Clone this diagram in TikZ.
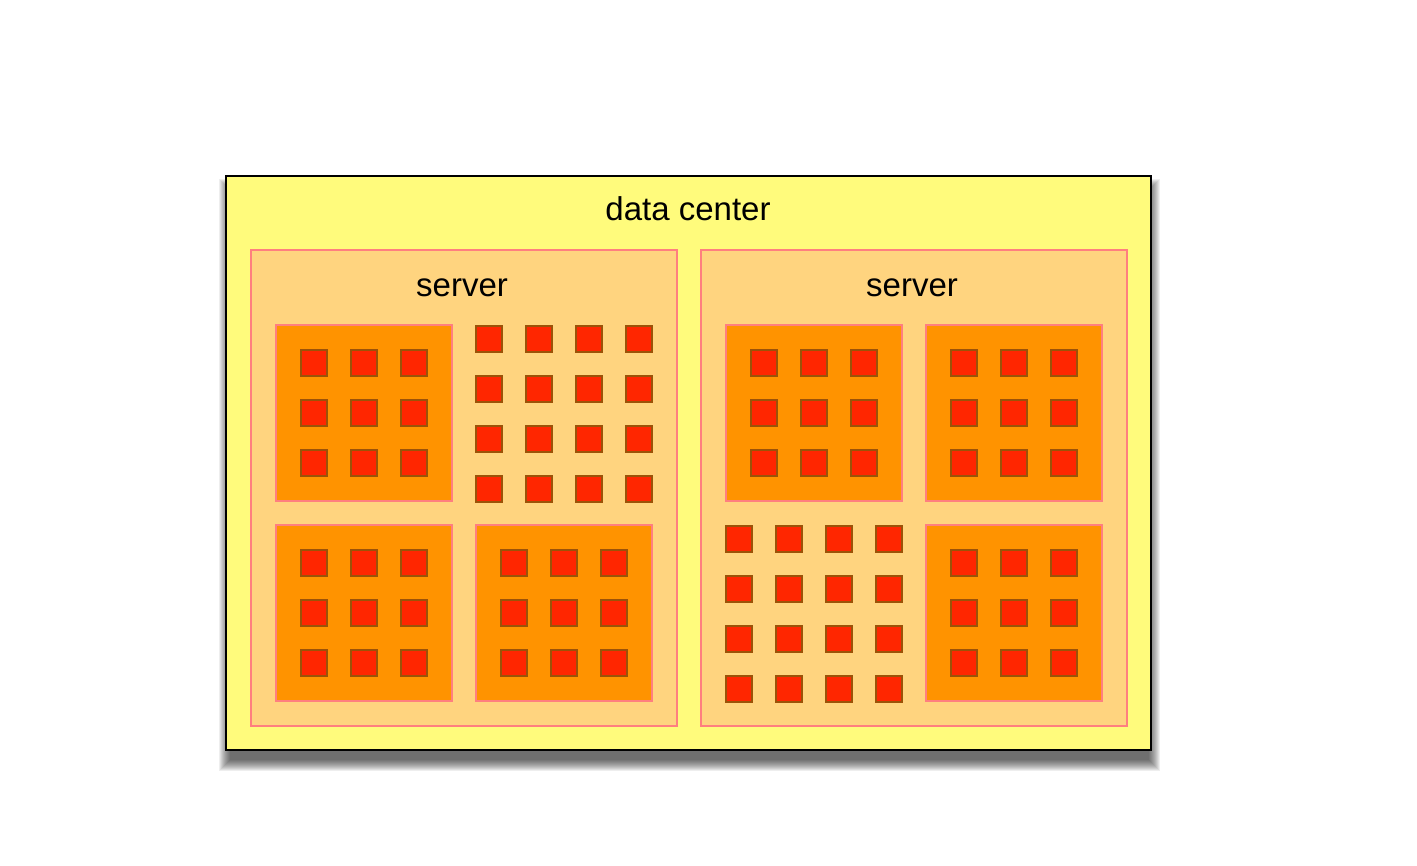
\documentclass[tikz,border=0pt]{standalone}
\usepackage{fontspec}
\setmainfont{Liberation Sans}
\usepackage{tikz}
\usetikzlibrary{positioning}
\definecolor{dcyellow}{HTML}{FFFB7C}
\definecolor{srvorange}{HTML}{FFD47F}
\definecolor{rimpink}{HTML}{FF7F7F}
\definecolor{tileorange}{HTML}{FF9300}
\definecolor{corered}{HTML}{FF2600}
\definecolor{corerim}{HTML}{9C5208}
\tikzset{
    %Define style for the outer box
    dcbox/.style={
           rectangle,
           draw=black, line width=1pt,
           fill=dcyellow,
           minimum width=462.5pt,
           minimum height=287pt,
           inner sep=0pt},
    srvbox/.style={
           rectangle,
           draw=rimpink, line width=1pt,
           fill=srvorange,
           minimum width=213pt,
           minimum height=238pt,
           inner sep=0pt},
    tilebox/.style={
           rectangle,
           draw=rimpink, line width=0.8pt,
           fill=tileorange,
           minimum size=88pt,
           inner sep=0pt},
    corebox/.style={
           rectangle,
           draw=corerim, line width=1pt,
           fill=corered,
           minimum size=13pt,
           inner sep=0pt},
    caption/.style={
           font=\fontsize{16.5pt}{19pt}\selectfont,
           inner sep=0pt}
}
\begin{document}
\begin{tikzpicture}[x=0.5pt,y=-0.5pt]
\useasboundingbox (0,0) rectangle (1417,866);
% soft shadow under the data center
\foreach \s in {0,...,11}
  \fill[black,opacity=0.065] (230-\s,190-\s) rectangle (1149+\s,760+\s);
\node[dcbox](dc) at (688.5,463){};
\node[caption](dclabel) at (688,209){data center};
\foreach \side/\cx in {L/464,R/914}{
  \node[srvbox](srv\side) at (\cx,488){};
  \node[caption](srvlabel\side) at (\cx-2,288){server};
}
% tiles with 3x3 cores
\foreach \t/\tx/\ty in {a/364/413, b/364/613, c/564/613, d/814/413, e/1014/413, f/1014/613}{
  \node[tilebox](tile\t) at (\tx,\ty){};
  \foreach \i in {-1,0,1}
    \foreach \j in {-1,0,1}
      \node[corebox](core\t\i\j) at (\tx+50*\i,\ty+50*\j){};
}
% loose 4x4 cores
\foreach \g/\gx/\gy in {p/489/339, q/739/539}{
  \foreach \i in {0,...,3}
    \foreach \j in {0,...,3}
      \node[corebox](core\g\i\j) at (\gx+50*\i,\gy+50*\j){};
}
\end{tikzpicture}
\end{document}
